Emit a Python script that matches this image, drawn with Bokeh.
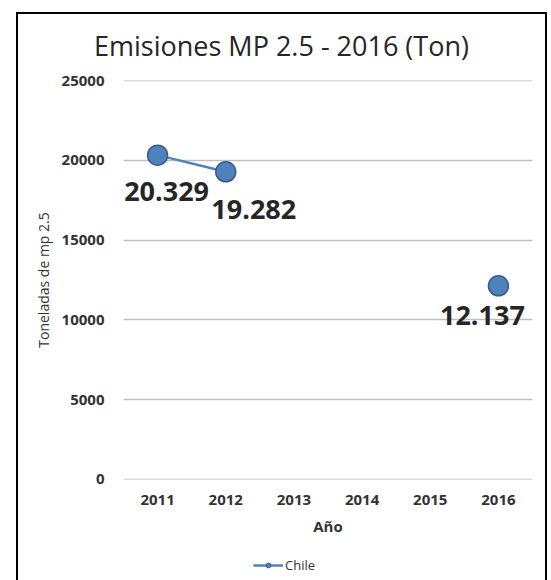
from bokeh.plotting import figure
from bokeh.layouts import column
from bokeh.models import (ColumnDataSource, Range1d, FactorRange, Div,
                          Legend, LegendItem, FixedTicker)
from bokeh.core.properties import value
from bokeh.embed import file_html
from bokeh.resources import INLINE

# ---- data ----
years = ["2011", "2012", "2013", "2014", "2015", "2016"]
emissions = [20329, 19282, float("nan"), float("nan"), float("nan"), 12137]
value_labels = ["20.329", "19.282", "", "", "", "12.137"]
y_ticks = [0, 5000, 10000, 15000, 20000, 25000]
title_text = "Emisiones MP 2.5 - 2016 (Ton)"
series_name = "Chile"

# label offsets (layout only, px)
label_dx = [9, 28, 0, 0, 0, -16]
label_dy = [36, 38, 0, 0, 0, 30]

FONT = "Open Sans"
BLUE = "#4F81BD"
DARK_BLUE = "#385D8A"
GRID = "#BFBFBF"
TXT = "#262626"

src = ColumnDataSource(dict(x=years, y=emissions, lab=value_labels, dx=label_dx, dy=label_dy))
pts = ColumnDataSource(dict(x=[years[i] for i in (0, 1, 5)],
                            y=[emissions[i] for i in (0, 1, 5)]))

# ---- title strip ----
title_div = Div(text=title_text, width=527, height=50, margin=(0, 0, 0, 0),
                styles={"font-family": FONT, "font-size": "27px", "color": TXT,
                        "text-align": "center", "line-height": "64px",
                        "white-space": "nowrap"})

# ---- main plot ----
p = figure(width=527, height=485, x_range=FactorRange(*years, range_padding=0),
           y_range=Range1d(-8, 25008), output_backend="svg", toolbar_location=None,
           title=None, min_border_left=105, min_border_right=13, min_border_top=16,
           min_border_bottom=70)
p.outline_line_color = None
p.background_fill_color = "white"
p.border_fill_color = "white"

p.line("x", "y", source=src, line_color=BLUE, line_width=2.5)
p.scatter("x", "y", source=pts, size=20, fill_color=BLUE, line_color=DARK_BLUE, line_width=1.5)
p.text("x", "y", text="lab", source=src, x_offset="dx", y_offset="dy",
       text_font=value(FONT), text_font_size="27px", text_font_style="bold",
       text_color=TXT, text_align="center", text_baseline="middle")

p.yaxis.ticker = FixedTicker(ticks=y_ticks)
for ax in (p.xaxis[0], p.yaxis[0]):
    ax.axis_line_color = None
    ax.major_tick_line_color = None
    ax.minor_tick_line_color = None
    ax.major_tick_out = 0
    ax.major_tick_in = 0
    ax.major_label_text_font = FONT
    ax.major_label_text_font_style = "bold"
    ax.major_label_text_font_size = "15px"
    ax.major_label_text_color = "#333333"
    ax.axis_label_text_font = FONT
    ax.axis_label_text_color = "#333333"

p.yaxis.major_label_standoff = 19
p.yaxis.axis_label = "Toneladas de mp 2.5"
p.yaxis.axis_label_text_font_size = "14px"
p.yaxis.axis_label_text_font_style = "normal"
p.yaxis.axis_label_standoff = 6

p.xaxis.major_label_standoff = 15
p.xaxis.axis_label = "Año"
p.xaxis.axis_label_text_font_size = "15px"
p.xaxis.axis_label_text_font_style = "bold"
p.xaxis.axis_label_standoff = 8

p.xgrid.grid_line_color = None
p.ygrid.grid_line_color = GRID
p.ygrid.grid_line_width = 1.5

# ---- legend strip (own small figure so the legend is not clipped) ----
leg_fig = figure(width=527, height=31, x_range=FactorRange(*years, range_padding=0),
                 y_range=Range1d(0, 1), x_axis_type=None, y_axis_type=None,
                 output_backend="svg", toolbar_location=None, min_border=0)
leg_fig.outline_line_color = None
leg_fig.grid.grid_line_color = None
leg_line = leg_fig.line("x", "y", source=src, line_color=BLUE, line_width=2.5)
leg_pt = leg_fig.scatter("x", "y", source=pts, size=6, fill_color=BLUE, line_color=DARK_BLUE)
legend = Legend(items=[LegendItem(label=series_name, renderers=[leg_line, leg_pt])],
                location=(130, 6), orientation="horizontal", padding=0, margin=0,
                glyph_width=30, glyph_height=12, label_standoff=2,
                label_text_font=FONT, label_text_font_size="13px",
                label_text_color="#333333", border_line_color=None,
                background_fill_alpha=0)
leg_fig.add_layout(legend, "center")

layout = column(title_div, p, leg_fig, spacing=0)
layout.margin = (12, 0, 0, 16)
layout.styles = {"border-top": "2px solid black", "border-left": "2px solid black",
                 "border-right": "2px solid black"}

open("out.html", "w").write(file_html(layout, INLINE))
